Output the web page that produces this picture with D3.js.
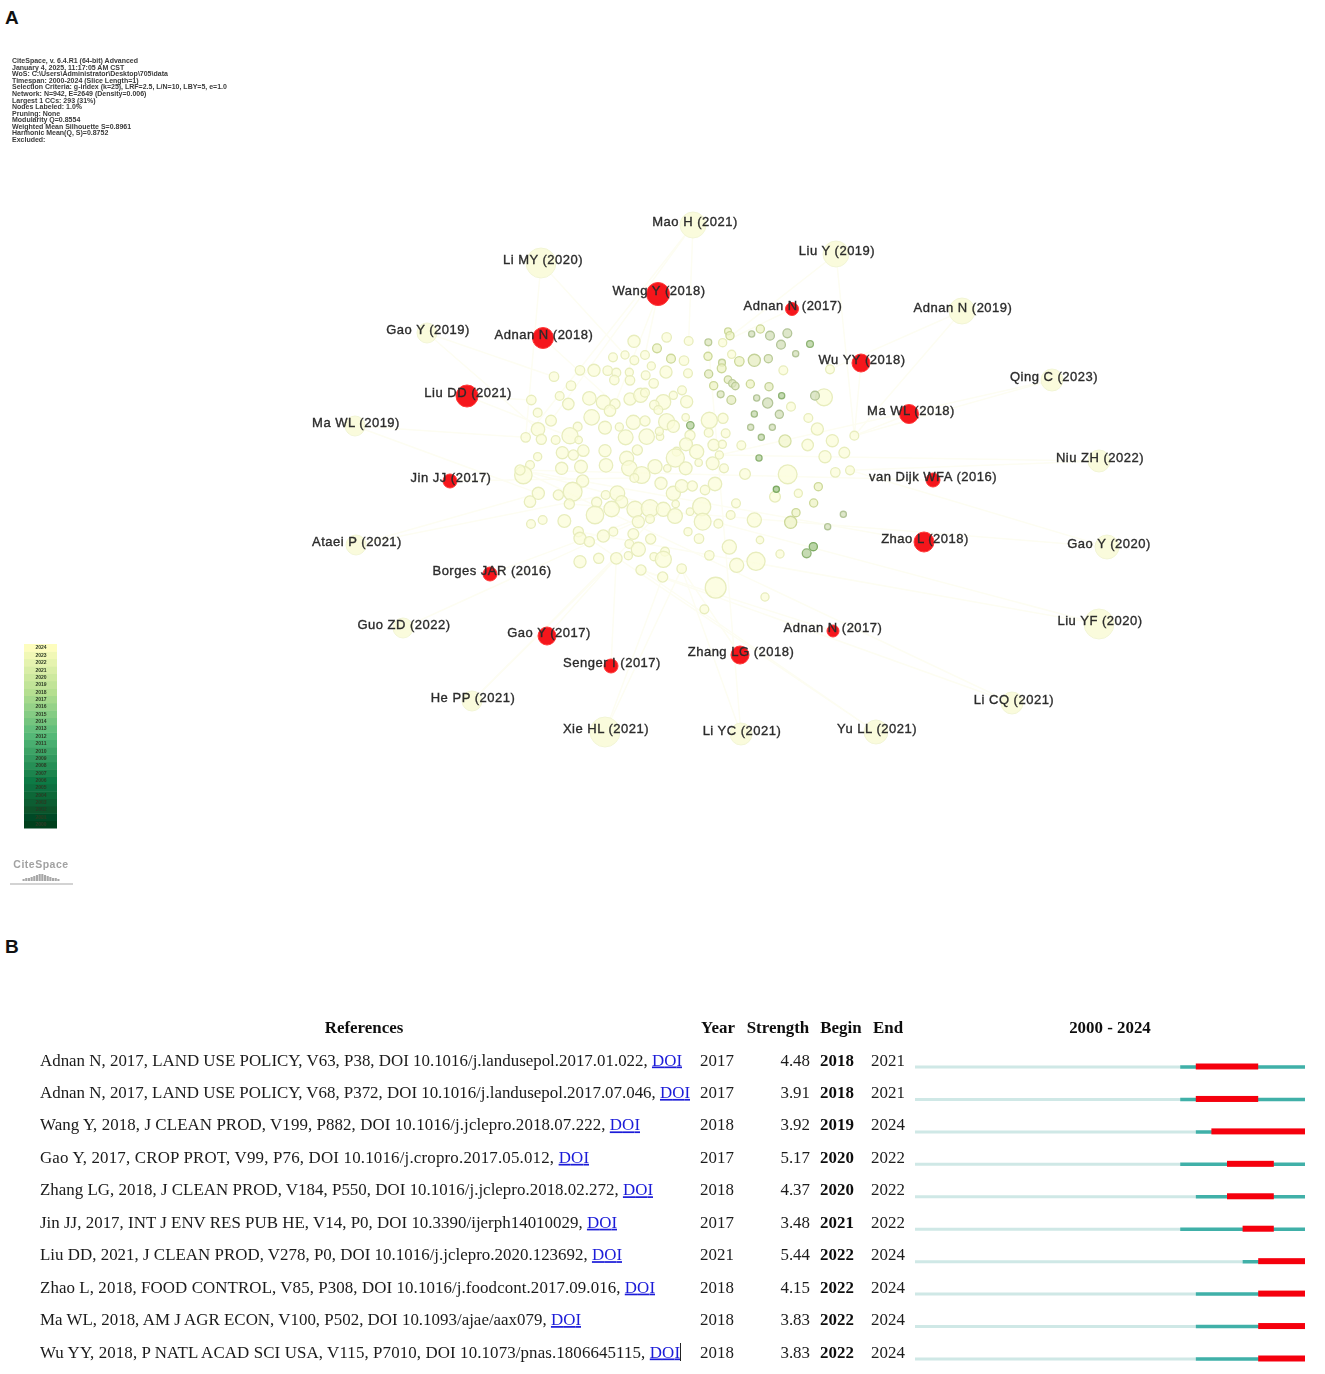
<!DOCTYPE html>
<html>
<head>
<meta charset="utf-8">
<style>
  html, body { margin: 0; padding: 0; background: #fff; }
  svg { display: block; }
  .panel { font: bold 19px "Liberation Sans", Arial, sans-serif; fill: #111; }
  .info { font: bold 7px "Liberation Sans", Arial, sans-serif; fill: #3a3a3a; }
  .hub { font: 13px "Liberation Sans", Arial, sans-serif; fill: #2b2b2b; stroke: #2b2b2b; stroke-width: 0.35; letter-spacing: 0.5px; text-anchor: middle; }
  .tbl { font: 16.9px "Liberation Serif", "Times New Roman", serif; fill: #1a1a1a; }
  .tbl-h { font: bold 16.9px "Liberation Serif", "Times New Roman", serif; fill: #111; }
</style>
</head>
<body>
<svg id="chart" width="1325" height="1374"></svg>
<script src="https://cdn.jsdelivr.net/npm/d3@7/dist/d3.min.js"></script>
<script>
// CiteSpace run summary, top left of panel A
const infoLines = [
  'CiteSpace, v. 6.4.R1 (64-bit) Advanced',
  'January 4, 2025, 11:17:05 AM CST',
  'WoS: C:\\Users\\Administrator\\Desktop\\705\\data',
  'Timespan: 2000-2024 (Slice Length=1)',
  'Selection Criteria: g-index (k=25), LRF=2.5, L/N=10, LBY=5, e=1.0',
  'Network: N=942, E=2649 (Density=0.006)',
  'Largest 1 CCs: 293 (31%)',
  'Nodes Labeled: 1.0%',
  'Pruning: None',
  'Modularity Q=0.8554',
  'Weighted Mean Silhouette S=0.8961',
  'Harmonic Mean(Q, S)=0.8752',
  'Excluded:'
];

// labelled nodes: label, x, y, radius, burst (red) or not
const hubLabels = ['Mao H (2021)','Liu Y (2019)','Li MY (2020)','Wang Y (2018)','Adnan N (2017)','Adnan N (2019)','Gao Y (2019)','Adnan N (2018)','Wu YY (2018)','Qing C (2023)','Liu DD (2021)','Ma WL (2018)','Ma WL (2019)','Niu ZH (2022)','Jin JJ (2017)','van Dijk WFA (2016)','Zhao L (2018)','Gao Y (2020)','Ataei P (2021)','Borges JAR (2016)','Liu YF (2020)','Guo ZD (2022)','Gao Y (2017)','Adnan N (2017)','Zhang LG (2018)','Senger I (2017)','He PP (2021)','Li CQ (2021)','Xie HL (2021)','Li YC (2021)','Yu LL (2021)'];
const hubX = [693,836,541,658,792,962,427,543,861,1052,467,909,355,1099,450,933,924,1107,356,490,1099,403,547,833,740,611,472,1012,605,741,876];
const hubY = [225,254,263,294,309,311,333,338,363,380,396,414,426,461,481,480,542,547,545,574,624,628,636,631,655,666,701,703,732,734,732];
const hubR = [13,13,15,11.5,6.5,13,10,10.5,9,11,11,9.5,10,11,7,7,10,12,10,7,15,10,9,6,9,7,10,11,15,11,12];
const hubBurst = [0,0,0,1,1,0,0,1,1,0,1,1,0,0,1,1,1,0,0,1,0,0,1,1,1,1,0,0,0,0,0];
const hubLabelX = [695,837,543,659,793,963,428,544,862,1054,468,911,356,1100,451,933,925,1109,357,492,1100,404,549,833,741,612,473,1014,606,742,877];

// unlabelled nodes: x, y, radius in crop units
const recentNodes = [
  [402,64,17],[500,52,13],[566,63,12],[668,68,11],[339,112,12],[375,105,11],[403,121,12],[435,105,12],[552,122,13],[695,103,11],
  [240,151,13],[282,151,17],[323,152,13],[349,158,12],[388,157,11],[454,138,11],[498,156,17],[564,160,12],[850,151,12],[990,148,12],
  [162,170,13],[343,180,13],[390,181,13],[437,166,12],[461,190,13],[213,197,13],[546,211,12],[520,226,11],[972,232,24],
  [94,240,13],[179,228,12],[268,235,19],[310,247,20],[390,237,17],[422,226,20],[435,218,12],[490,246,21],[560,245,17],[873,260,12],
  [205,252,16],[345,252,14],[330,272,16],[463,255,13],[475,270,12],[113,278,12],[153,302,15],[275,292,22],[400,307,20],[435,303,14],
  [500,305,23],[557,292,10],[628,301,23],[669,295,14],[925,294,12],[114,328,19],[233,320,12],[315,323,18],[358,321,11],[520,319,17],
  [952,327,17],[77,352,13],[124,358,14],[167,360,12],[210,347,23],[236,360,10],[377,352,21],[440,350,22],[480,350,10],[478,334,11],
  [570,346,14],[626,338,12],[677,340,12],[1063,347,12],[997,362,17],[923,375,16],[724,376,12],[641,375,16],[667,373,11],[558,373,18],
  [187,398,17],[250,392,16],[315,392,17],[412,390,14],[113,410,11],[530,395,12],[590,395,20],[526,414,26],[658,405,11],[975,410,17],
  [1033,398,15],[220,405,14],[380,415,20],[596,428,10],[638,430,18],[90,435,12],[185,445,17],[243,440,18],[318,436,19],[388,445,22],
  [465,440,20],[502,445,10],[557,445,18],[672,445,12],[425,465,24],[403,474,12],[70,465,25],[60,450,14],[863,463,27],[735,462,15],
  [1006,457,13],[1050,451,12],[248,483,17],[483,490,17],[645,492,19],[115,520,17],[175,525,14],[218,515,27],[352,520,21],[520,520,20],
  [545,498,18],[577,498,14],[615,510,13],[825,530,15],[895,520,11],[90,545,16],[208,552,14],[317,525,12],[290,547,14],[365,545,17],
  [335,567,22],[527,552,10],[708,550,12],[605,560,26],[405,568,23],[450,565,25],[490,568,20],[285,585,25],[525,588,21],[570,575,10],
  [692,585,12],[93,612,12],[128,600,12],[193,603,18],[415,605,17],[450,597,12],[608,605,24],[763,600,20],[655,611,12],[235,635,14],
  [340,635,12],[240,655,17],[400,642,15],[564,635,11],[268,665,14],[310,648,17],[597,656,13],[452,657,14],[780,660,10],[688,681,20],
  [388,672,12],[415,688,20],[240,725,17],[296,715,14],[349,715,16],[385,707,11],[462,710,11],[495,695,12],[490,718,23],[628,706,13],
  [840,702,11],[768,724,26],[710,736,20],[423,750,14],[545,746,13],[488,771,14],[647,803,30],[795,831,11],[613,868,12]
];
// older nodes, greener: x, y, radius, year
const olderNodes = [
  [625,67,9,2016],[684,34,9,2018],[690,47,11,2018],[755,42,8,2015],[781,27,11,2018],[810,47,12,2015],[862,40,12,2015],[843,74,12,2015],
  [930,72,9,2013],[887,101,8,2015],[471,85,12,2018],[513,116,12,2018],[624,109,11,2018],[718,124,13,2018],[763,121,17,2017],[805,116,11,2016],
  [666,128,9,2017],[626,162,11,2017],[665,145,12,2018],[684,179,10,2017],[697,190,10,2016],[706,198,10,2016],[751,192,11,2018],[807,200,11,2017],
  [641,197,11,2018],[662,223,9,2016],[770,234,8,2015],[845,227,8,2013],[945,227,12,2015],[694,240,12,2017],[803,249,14,2015],[763,282,8,2014],
  [838,283,11,2015],[571,316,10,2013],[752,322,8,2015],[817,322,8,2015],[784,352,8,2014],[777,414,8,2013],[829,508,8,2012],[1030,583,8,2015],
  [983,620,8,2015],[940,680,11,2012],[920,700,12,2013],[955,500,11,2018],[941,549,11,2018],[888,578,11,2018],[872,607,17,2018],[855,363,17,2019]
];
// faint co-citation links: labelled node index -> cloud node index
const hubLinks = [
  [0,60],[0,2],[0,45],[1,72],[1,3],[2,5],[2,60],[3,7],[3,40],[4,3],[5,19],[5,72],[6,20],[6,54],[7,40],[8,72],[9,72],[9,87],
  [10,64],[10,29],[11,72],[12,60],[12,114],[13,110],[13,87],[14,104],[15,106],[16,106],[17,110],[17,125],[18,114],[18,126],
  [19,135],[20,106],[20,148],[21,135],[22,163],[23,172],[24,173],[25,163],[26,163],[26,135],[27,172],[27,106],[28,174],[28,173],
  [29,178],[29,173],[30,172],[30,148]
];

// burst table, panel B
const refAuthors = [
  'Adnan N, 2017, LAND USE POLICY, V63, P38, DOI 10.1016/j.landusepol.2017.01.022, ',
  'Adnan N, 2017, LAND USE POLICY, V68, P372, DOI 10.1016/j.landusepol.2017.07.046, ',
  'Wang Y, 2018, J CLEAN PROD, V199, P882, DOI 10.1016/j.jclepro.2018.07.222, ',
  'Gao Y, 2017, CROP PROT, V99, P76, DOI 10.1016/j.cropro.2017.05.012, ',
  'Zhang LG, 2018, J CLEAN PROD, V184, P550, DOI 10.1016/j.jclepro.2018.02.272, ',
  'Jin JJ, 2017, INT J ENV RES PUB HE, V14, P0, DOI 10.3390/ijerph14010029, ',
  'Liu DD, 2021, J CLEAN PROD, V278, P0, DOI 10.1016/j.jclepro.2020.123692, ',
  'Zhao L, 2018, FOOD CONTROL, V85, P308, DOI 10.1016/j.foodcont.2017.09.016, ',
  'Ma WL, 2018, AM J AGR ECON, V100, P502, DOI 10.1093/ajae/aax079, ',
  'Wu YY, 2018, P NATL ACAD SCI USA, V115, P7010, DOI 10.1073/pnas.1806645115, '
];
const refYear = [2017,2017,2018,2017,2018,2017,2021,2018,2018,2018];
const refStrength = ['4.48','3.91','3.92','5.17','4.37','3.48','5.44','4.15','3.83','3.83'];
const refBegin = [2018,2018,2019,2020,2020,2021,2022,2022,2022,2022];
const refEnd = [2021,2021,2024,2022,2022,2022,2024,2024,2024,2024];

const legendYears = d3.range(2000, 2025);
const logoBars = [2,3,3,4,5,6,7,7,6,5,4,3,3,2];

const svg = d3.select('#chart');
const defs = svg.append('defs');
defs.append('filter').attr('id', 'soft').append('feGaussianBlur').attr('stdDeviation', 0.5);
defs.append('filter').attr('id', 'softer').append('feGaussianBlur').attr('stdDeviation', 0.35);

svg.append('text').attr('class', 'panel').attr('x', 5).attr('y', 24).text('A');
svg.append('text').attr('class', 'panel').attr('x', 5).attr('y', 953).text('B');

// --- panel A: header block
const info = svg.append('g').attr('filter', 'url(#soft)');
const infoY = d3.scalePoint().domain(d3.range(infoLines.length)).range([63, 142]);
info.selectAll('text').data(infoLines).join('text')
  .attr('class', 'info')
  .attr('x', 12)
  .attr('y', (d, i) => infoY(i))
  .text(d => d);

// --- panel A: network
const cloudX = d3.scaleLinear().domain([0, 1140]).range([500, 880]);
const cloudY = d3.scaleLinear().domain([0, 900]).range([320, 620]);
const cloudR = d3.scaleLinear().domain([0, 30]).range([0.4, 10.4]);
const nodeFill = d3.scaleLinear().domain([2012, 2015, 2018, 2021]).range(['#a3c78a', '#d3dfb8', '#eef3c4', '#fbfcd8']);
const nodeRing = d3.scaleLinear().domain([2012, 2015, 2018, 2021]).range(['#7dab63', '#b3c598', '#cdd99a', '#e8edbd']);

const cloud = recentNodes.map(d => ({ x: d[0], y: d[1], r: d[2], year: 2021 }))
  .concat(olderNodes.map(d => ({ x: d[0], y: d[1], r: d[2], year: d[3] })));

const net = svg.append('g').attr('filter', 'url(#soft)');
net.append('g').selectAll('line').data(hubLinks).join('line')
  .attr('x1', d => hubX[d[0]])
  .attr('y1', d => hubY[d[0]])
  .attr('x2', d => cloudX(cloud[d[1]].x))
  .attr('y2', d => cloudY(cloud[d[1]].y))
  .attr('stroke', '#fdfdf2')
  .attr('stroke-width', 1.5);

net.append('g').selectAll('circle').data(cloud).join('circle')
  .attr('cx', d => cloudX(d.x))
  .attr('cy', d => cloudY(d.y))
  .attr('r', d => cloudR(d.r))
  .attr('fill', d => nodeFill(d.year))
  .attr('fill-opacity', 0.75)
  .attr('stroke', d => nodeRing(d.year))
  .attr('stroke-width', 1.3);

net.append('g').selectAll('circle').data(hubLabels).join('circle')
  .attr('cx', (d, i) => hubX[i])
  .attr('cy', (d, i) => hubY[i])
  .attr('r', (d, i) => hubR[i])
  .attr('fill', (d, i) => hubBurst[i] ? '#f5141a' : '#fafbdc')
  .attr('stroke', (d, i) => hubBurst[i] ? '#ff3a3a' : '#f2f5d6')
  .attr('stroke-width', 1);

const hubText = svg.append('g').attr('filter', 'url(#softer)');
hubText.selectAll('text').data(hubLabels).join('text')
  .attr('class', 'hub')
  .attr('x', (d, i) => hubLabelX[i])
  .attr('y', (d, i) => hubY[i] + 0.5)
  .text(d => d);

// --- panel A: year colour bar
const barColor = d3.scaleLinear()
  .domain([2000, 2006, 2012, 2018, 2024])
  .range(['#04401f', '#0f7a45', '#54b877', '#b5df90', '#fdfdbe']);
const barY = d3.scaleBand().domain(legendYears.slice().reverse()).range([644, 828]);
const legend = svg.append('g').attr('filter', 'url(#soft)');
legend.selectAll('rect').data(legendYears).join('rect')
  .attr('x', 24)
  .attr('y', d => barY(d))
  .attr('width', 33)
  .attr('height', barY.bandwidth() + 0.5)
  .attr('fill', d => barColor(d));
legend.selectAll('text').data(legendYears).join('text')
  .attr('x', 41)
  .attr('y', d => barY(d) + barY.bandwidth() / 2 + 1.8)
  .attr('text-anchor', 'middle')
  .style('font', 'bold 5px "Liberation Sans", Arial, sans-serif')
  .attr('fill', '#2c3a24')
  .text(d => d);

// CiteSpace logo
const logo = svg.append('g').attr('filter', 'url(#soft)');
logo.append('text')
  .attr('x', 41).attr('y', 868)
  .attr('text-anchor', 'middle')
  .style('font', 'bold 10.5px "Liberation Sans", Arial, sans-serif')
  .attr('letter-spacing', 0.5)
  .attr('fill', '#a2a2a2')
  .text('CiteSpace');
const logoX = d3.scaleBand().domain(d3.range(logoBars.length)).range([22, 60]).padding(0.2);
logo.selectAll('rect').data(logoBars).join('rect')
  .attr('x', (d, i) => logoX(i))
  .attr('y', d => 881 - d)
  .attr('width', logoX.bandwidth())
  .attr('height', d => d)
  .attr('fill', '#a8a8a8');
logo.append('line').attr('x1', 10).attr('x2', 73).attr('y1', 884).attr('y2', 884)
  .attr('stroke', '#c4c4c4').attr('stroke-width', 1.5);

// --- panel B: burst table
const rowY = d3.scaleLinear().domain([0, 9]).range([1060, 1352]);
const timeX = d3.scaleLinear().domain([2000, 2025]).range([915, 1305]);
const table = svg.append('g').attr('filter', 'url(#softer)');

const headers = [
  { text: 'References', x: 364, anchor: 'middle' },
  { text: 'Year', x: 718, anchor: 'middle' },
  { text: 'Strength', x: 778, anchor: 'middle' },
  { text: 'Begin', x: 841, anchor: 'middle' },
  { text: 'End', x: 888, anchor: 'middle' },
  { text: '2000 - 2024', x: 1110, anchor: 'middle' }
];
table.selectAll('text.tbl-h').data(headers).join('text')
  .attr('class', 'tbl-h')
  .attr('x', d => d.x)
  .attr('y', 1033)
  .attr('text-anchor', d => d.anchor)
  .text(d => d.text);

const rows = table.selectAll('g.row').data(refAuthors).join('g')
  .attr('class', 'row')
  .attr('transform', (d, i) => `translate(0,${rowY(i) + 5.5})`);

// each reference ends at its own x in the original, the font metrics differ a bit
const doiEnd = [682,690,640,589,653,617,622,655,581,680];
const refText = rows.append('text').attr('class', 'tbl').attr('x', 40)
  .attr('textLength', (d, i) => doiEnd[i] - 40)
  .attr('lengthAdjust', 'spacing');
refText.append('tspan').text(d => d);
refText.append('tspan')
  .attr('fill', '#1a1ad8')
  .attr('text-decoration', 'underline')
  .text('DOI');

rows.append('text').attr('class', 'tbl').attr('x', 717).attr('text-anchor', 'middle')
  .text((d, i) => refYear[i]);
rows.append('text').attr('class', 'tbl').attr('x', 810).attr('text-anchor', 'end')
  .text((d, i) => refStrength[i]);
rows.append('text').attr('class', 'tbl-h').attr('x', 837).attr('text-anchor', 'middle')
  .text((d, i) => refBegin[i]);
rows.append('text').attr('class', 'tbl').attr('x', 888).attr('text-anchor', 'middle')
  .text((d, i) => refEnd[i]);

// text cursor left behind after the last DOI link
table.append('line')
  .attr('x1', 680.5).attr('x2', 680.5)
  .attr('y1', rowY(9) - 9).attr('y2', rowY(9) + 9)
  .attr('stroke', '#222').attr('stroke-width', 1);

const bars = svg.append('g').attr('filter', 'url(#softer)');
refAuthors.forEach((d, i) => {
  const y = rowY(i) + 7;
  bars.append('line')
    .attr('x1', timeX(2000)).attr('x2', timeX(refYear[i]))
    .attr('y1', y).attr('y2', y)
    .attr('stroke', '#cfe8e6').attr('stroke-width', 3);
  bars.append('line')
    .attr('x1', timeX(refYear[i])).attr('x2', timeX(2025))
    .attr('y1', y).attr('y2', y)
    .attr('stroke', '#3fb0a8').attr('stroke-width', 3.5);
  bars.append('rect')
    .attr('x', timeX(refBegin[i]))
    .attr('y', y - 3.5)
    .attr('width', timeX(refEnd[i] + 1) - timeX(refBegin[i]))
    .attr('height', 6)
    .attr('fill', '#f5000f');
});
</script>
</body>
</html>
